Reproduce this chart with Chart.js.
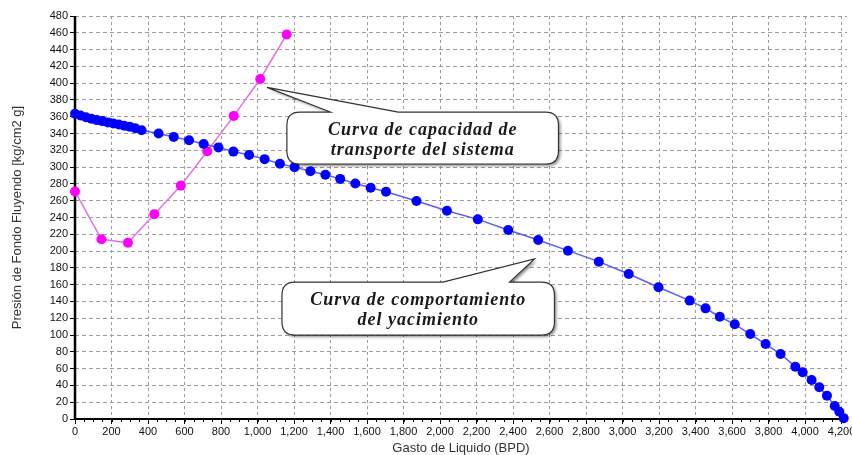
<!DOCTYPE html>
<html><head><meta charset="utf-8">
<script src="https://cdn.jsdelivr.net/npm/chart.js@4"></script>
<style>html,body{margin:0;padding:0;background:#fff}#wrap{width:852px;height:455px}</style>
</head><body><div id="wrap"><canvas id="c" width="852" height="455"></canvas></div>
<script>
// ---- data ----
const xTickValues = [0,200,400,600,800,1000,1200,1400,1600,1800,2000,2200,2400,2600,2800,3000,3200,3400,3600,3800,4000,4200];
const yTickValues = [0,20,40,60,80,100,120,140,160,180,200,220,240,260,280,300,320,340,360,380,400,420,440,460,480];

// Curva de capacidad de transporte del sistema (magenta)
const transportX = [0,145,290,435,580,725,870,1015,1160];
const transportY = [271,214,210,244,278,319,361,405,458];

// Curva de comportamiento del yacimiento (blue)
const reservoirX = [0,30,60,90,120,150,180,210,240,270,300,330,365,
  458,541,625,705,786,868,954,1039,1123,1203,1290,1372,1453,1536,1620,1704,
  1871,2038,2207,2374,2538,2701,2870,3034,3197,3368,3455,3533,3615,3700,3784,3866,3947,
  3987,4036,4078,4120,4163,4188,4212];
const reservoirY = [363.5,361.5,359.5,357.7,356,354.8,353.3,352,350.8,349.3,348,346.3,344,
  340,336,332,327.5,323.5,318.5,314.5,309.5,304,300,295,291,286,280.5,275.5,270.7,
  259.6,248.1,237.8,225.1,213.2,200.5,187.4,172.7,156.9,141,131.8,121.8,112.8,101.2,89.3,77.4,62.3,
  55.6,46.4,37.8,27.8,15.5,8.7,1];

const calloutTransport = ["Curva de capacidad de", "transporte del sistema"];
const calloutReservoir = ["Curva de comportamiento", "del yacimiento"];
const xTitle = "Gasto de Liquido (BPD)";
const yTitle = "Presión de Fondo Fluyendo [kg/cm2 g]";

// ---- plugins ----
const axisPlugin = {
  id: 'axisLines',
  beforeDatasetsDraw(chart) {
    const {ctx, chartArea: a, scales} = chart;
    ctx.save();
    ctx.strokeStyle = '#000';
    ctx.lineWidth = 1;
    ctx.beginPath();
    for (let v = 0; v <= 4200; v += 50) {
      const px = Math.round(scales.x.getPixelForValue(v)) + 0.5;
      ctx.moveTo(px, a.bottom); ctx.lineTo(px, a.bottom + 3);
    }
    ctx.stroke();
    ctx.lineWidth = 2.5;
    ctx.beginPath();
    ctx.moveTo(a.left, a.top); ctx.lineTo(a.left, a.bottom + 1);
    ctx.stroke();
    ctx.lineWidth = 2;
    ctx.beginPath();
    ctx.moveTo(a.left - 1, a.bottom); ctx.lineTo(a.right, a.bottom);
    ctx.stroke();
    ctx.restore();
  }
};

function drawBubble(chart, cfg, lines) {
  const {ctx, scales: {x, y}} = chart;
  const L = x.getPixelForValue(cfg.left), R = x.getPixelForValue(cfg.right);
  const T = y.getPixelForValue(cfg.top), B = y.getPixelForValue(cfg.bottom);
  const tx = x.getPixelForValue(cfg.tipX), ty = y.getPixelForValue(cfg.tipY);
  const b1 = x.getPixelForValue(cfg.base1), b2 = x.getPixelForValue(cfg.base2);
  const r = 13;
  ctx.save();
  ctx.beginPath();
  ctx.moveTo(L + r, T);
  ctx.lineTo(b1, T);
  ctx.lineTo(tx, ty);
  ctx.lineTo(b2, T);
  ctx.lineTo(R - r, T);
  ctx.quadraticCurveTo(R, T, R, T + r);
  ctx.lineTo(R, B - r);
  ctx.quadraticCurveTo(R, B, R - r, B);
  ctx.lineTo(L + r, B);
  ctx.quadraticCurveTo(L, B, L, B - r);
  ctx.lineTo(L, T + r);
  ctx.quadraticCurveTo(L, T, L + r, T);
  ctx.closePath();
  ctx.shadowColor = 'rgba(0,0,0,0.45)';
  ctx.shadowOffsetX = 2; ctx.shadowOffsetY = 2; ctx.shadowBlur = 3;
  ctx.fillStyle = '#fff';
  ctx.fill();
  ctx.shadowColor = 'transparent';
  ctx.lineWidth = 1.2;
  ctx.strokeStyle = '#333';
  ctx.stroke();
  ctx.fillStyle = '#1a1a1a';
  ctx.font = 'italic bold 18px "Liberation Serif", "Times New Roman", serif';
  try { ctx.letterSpacing = '1px'; } catch (e) {}
  ctx.textAlign = 'center';
  ctx.textBaseline = 'middle';
  const cx = (L + R) / 2, cy = (T + B) / 2;
  ctx.fillText(lines[0], cx, cy - 8);
  ctx.fillText(lines[1], cx, cy + 12);
  ctx.restore();
}

const calloutPlugin = {
  id: 'callouts',
  afterDatasetsDraw(chart) {
    drawBubble(chart, {left:1161, right:2649, top:365.6, bottom:303.7, tipX:1052, tipY:395, base1:1400, base2:1771}, calloutTransport);
    drawBubble(chart, {left:1134, right:2627, top:163, bottom:100, tipX:2518, tipY:190.6, base1:2016, base2:2381}, calloutReservoir);
  }
};

const tickFont = {family: '"Liberation Sans", Arial, sans-serif', size: 11};

new Chart(document.getElementById('c'), {
  type: 'scatter',
  data: {
    datasets: [
      {
        label: 'Curva de comportamiento del yacimiento',
        data: reservoirX.map((v, i) => ({x: v, y: reservoirY[i]})),
        showLine: true,
        borderColor: '#5c5cf0',
        borderWidth: 1.5,
        pointBackgroundColor: '#0000ff',
        pointBorderColor: '#0000ff',
        pointRadius: 5,
        pointBorderWidth: 0,
        tension: 0
      },
      {
        label: 'Curva de capacidad de transporte del sistema',
        data: transportX.map((v, i) => ({x: v, y: transportY[i]})),
        showLine: true,
        borderColor: '#e070e6',
        borderWidth: 1.5,
        pointBackgroundColor: '#ff00ff',
        pointBorderColor: '#ff00ff',
        pointRadius: 5,
        pointBorderWidth: 0,
        tension: 0
      }
    ]
  },
  options: {
    responsive: false,
    animation: false,
    devicePixelRatio: 1,
    clip: false,
    layout: {padding: {top: 16, right: 0, left: 0, bottom: 0}},
    plugins: {legend: {display: false}, tooltip: {enabled: false}},
    scales: {
      x: {
        type: 'linear', min: 0, max: 4230,
        afterBuildTicks: s => { s.ticks = xTickValues.map(v => ({value: v})); },
        afterFit: s => { s.height = 36; s.paddingLeft = 0; s.paddingRight = 0; },
        ticks: {
          autoSkip: false, maxRotation: 0, minRotation: 0, padding: 1,
          font: tickFont, color: '#111',
          callback: v => v.toLocaleString('en-US')
        },
        grid: {color: '#9c9c9c', lineWidth: 1, drawTicks: true, tickLength: 5, tickColor: '#000'},
        border: {display: false, dash: [3, 3]},
        title: {display: true, text: xTitle, color: '#333',
          font: {family: '"Liberation Sans", Arial, sans-serif', size: 13},
          padding: {top: 0, bottom: -1.5}}
      },
      y: {
        type: 'linear', min: 0, max: 480,
        afterBuildTicks: s => { s.ticks = yTickValues.map(v => ({value: v})); },
        afterFit: s => { s.width = 75; },
        ticks: {autoSkip: false, padding: 2, font: tickFont, color: '#111'},
        grid: {color: '#9c9c9c', lineWidth: 1, drawTicks: true, tickLength: 5, tickColor: '#000'},
        border: {display: false, dash: [4, 3]},
        title: {display: true, text: yTitle, color: '#333',
          font: {family: '"Liberation Sans", Arial, sans-serif', size: 13},
          padding: {top: 10, bottom: 0}}
      }
    }
  },
  plugins: [axisPlugin, calloutPlugin]
});
</script>
</body></html>
